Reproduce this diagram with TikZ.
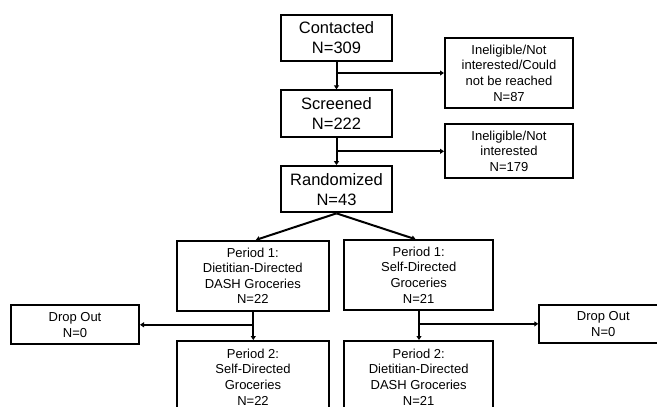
\documentclass[tikz,border=0pt]{standalone}
\usepackage{fontspec}
\setmainfont{Liberation Sans}
\usetikzlibrary{arrows.meta}
\tikzset{
  box/.style={draw=black, line width=2pt, fill=white, inner sep=0pt, align=center},
  bigbox/.style={box, font=\fontsize{16.5}{20}\selectfont},
  smallbox/.style={box, font=\fontsize{13}{15.6}\selectfont},
  arr/.style={line width=2pt, -{Triangle[length=4pt,width=5pt]}},
  ln/.style={line width=2pt}
}
\begin{document}
\begin{tikzpicture}[x=1pt,y=-1pt]
\useasboundingbox (0,0) rectangle (657,407);
\clip (0,0) rectangle (657,407);
\fill[white] (0,0) rectangle (657,407);
\node[bigbox, minimum width=111.6pt, minimum height=46pt] (contacted) at (336.5,38) {Contacted\\N=309};
\node[bigbox, minimum width=111.6pt, minimum height=46.4pt] (screened) at (336.5,113.5) {Screened\\N=222};
\node[bigbox, minimum width=111.6pt, minimum height=46.3pt] (randomized) at (336.5,189.2) {Randomized\\N=43};
\node[smallbox, minimum width=128pt, minimum height=70.6pt] (ine1) at (509,73) {Ineligible/Not\\interested/Could\\not be reached\\N=87};
\node[smallbox, minimum width=128pt, minimum height=54pt] (ine2) at (509,151.3) {Ineligible/Not\\interested\\N=179};
\node[smallbox, minimum width=152.3pt, minimum height=69.7pt] (p1l) at (252.8,275.8) {Period 1:\\Dietitian-Directed\\DASH Groceries\\N=22};
\node[smallbox, minimum width=149.3pt, minimum height=69.4pt] (p1r) at (418.7,275) {Period 1:\\Self-Directed\\Groceries\\N=21};
\node[smallbox, minimum width=152.6pt, minimum height=72pt] (p2l) at (253,377) {Period 2:\\Self-Directed\\Groceries\\N=22};
\node[smallbox, minimum width=149.3pt, minimum height=72pt] (p2r) at (418.7,377) {Period 2:\\Dietitian-Directed\\DASH Groceries\\N=21};
\node[smallbox, minimum width=128pt, minimum height=39pt] (dropl) at (75,324.8) {Drop Out\\N=0};
\node[smallbox, minimum width=128pt, minimum height=38.3pt] (dropr) at (603.3,323.9) {Drop Out\\N=0};
\draw[arr] (contacted.south) -- (screened.north);
\draw[arr] (contacted.south |- ine1.west) -- (ine1.west);
\draw[arr] (screened.south) -- (randomized.north);
\draw[arr] (screened.south |- ine2.west) -- (ine2.west);
\draw[arr] (randomized.south) -- ([xshift=3pt]p1l.north);
\draw[arr] (randomized.south) -- ([xshift=-3pt]p1r.north);
\coordinate (bl) at (253.3,324.8);
\coordinate (br) at (419,323.9);
\draw[arr] (p1l.south -| bl) -- (p2l.north -| bl);
\draw[arr] (bl) -- (dropl.east);
\draw[arr] (p1r.south -| br) -- (p2r.north -| br);
\draw[arr] (br) -- (dropr.west);
\end{tikzpicture}
\end{document}
